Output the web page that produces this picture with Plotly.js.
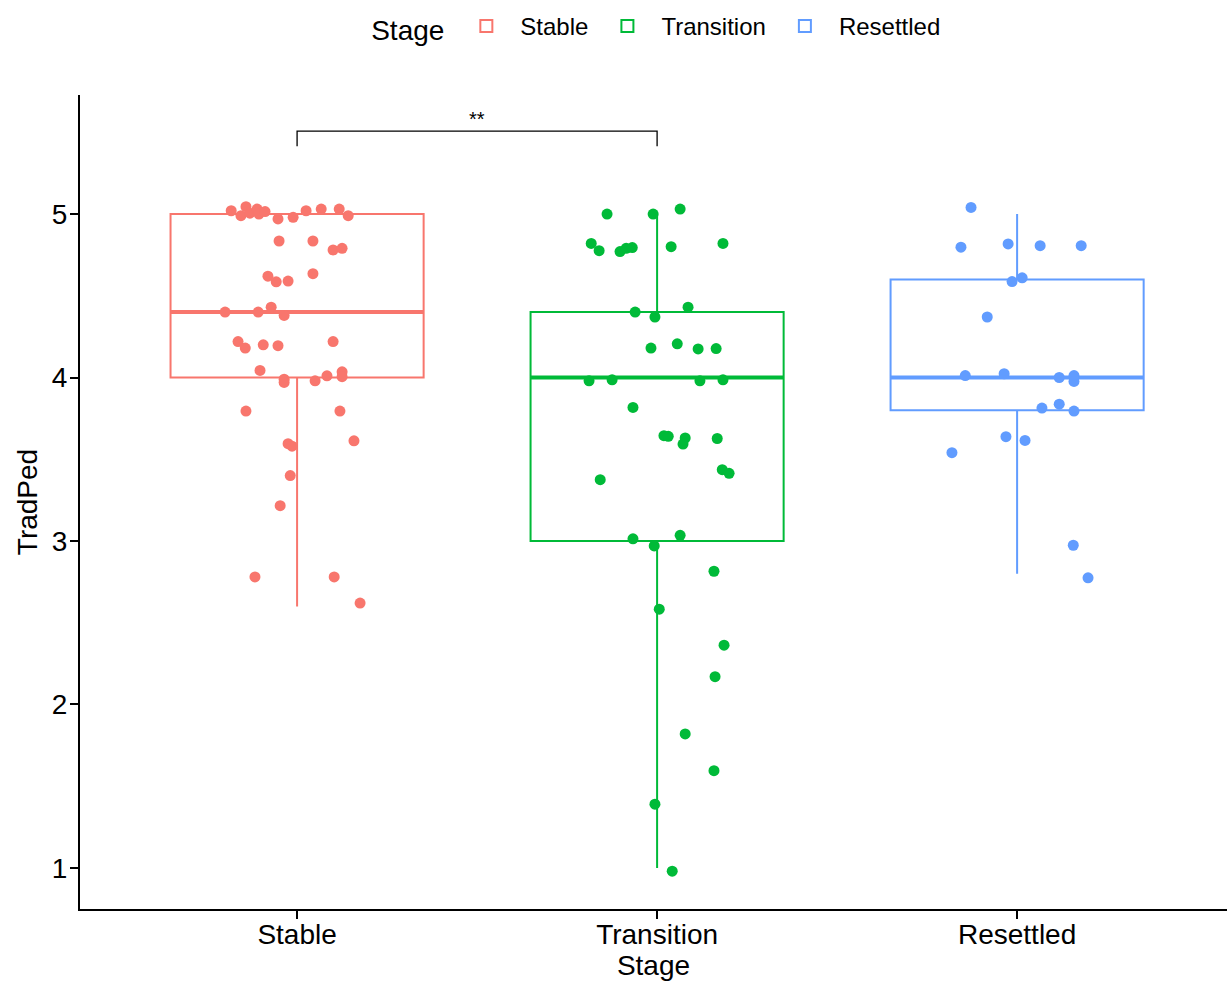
<!DOCTYPE html>
<html>
<head>
<meta charset="utf-8">
<script src="https://cdn.plot.ly/plotly-3.0.1.min.js"></script>
<style>html,body{margin:0;padding:0;background:#fff;}#chart{width:1227px;height:985px;}</style>
</head>
<body>
<div id="chart"></div>
<script>
// Categories
const stages = ['Stable', 'Transition', 'Resettled'];

// Box statistics per stage
const boxLow = [2.6, 1.0, 2.8];
const boxQ1 = [4.0, 3.0, 3.8];
const boxMedian = [4.4, 4.0, 4.0];
const boxQ3 = [5.0, 4.4, 4.6];
const boxHigh = [5.0, 5.0, 5.0];

// Jittered points: horizontal jitter offset and displayed TradPed value
const stableJitter = [-0.183,-0.156,-0.142,-0.131,-0.111,-0.106,-0.089,-0.053,-0.011,0.025,0.067,0.117,0.142,
  -0.050,0.044,0.100,0.125,-0.081,-0.058,-0.025,0.044,-0.200,-0.108,-0.072,-0.036,
  -0.164,-0.144,-0.094,-0.053,0.100,-0.103,-0.036,-0.036,0.050,0.083,0.125,0.125,
  -0.142,0.119,-0.025,-0.014,0.158,-0.019,-0.047,-0.117,0.103,0.175];
const stableValues = [5.02,4.99,5.045,5.005,5.03,5.0,5.015,4.97,4.98,5.02,5.03,5.03,4.99,
  4.835,4.835,4.78,4.79,4.62,4.585,4.59,4.635,4.40,4.40,4.43,4.38,
  4.22,4.18,4.20,4.195,4.22,4.043,3.99,3.97,3.98,4.01,4.035,4.005,
  3.795,3.795,3.595,3.58,3.613,3.40,3.216,2.78,2.78,2.62];

const transitionJitter = [-0.139,-0.011,0.064,-0.183,-0.161,-0.103,-0.086,-0.069,0.039,0.183,
  -0.061,-0.006,0.086,-0.017,0.056,0.114,0.164,-0.189,-0.125,0.119,0.183,
  -0.067,0.019,0.031,0.078,0.072,0.167,0.181,0.200,-0.158,
  -0.067,0.064,-0.008,0.158,0.006,0.186,0.161,0.078,0.158,-0.006,0.042];
const transitionValues = [5.0,5.0,5.03,4.82,4.776,4.77,4.79,4.795,4.80,4.82,
  4.40,4.37,4.43,4.18,4.206,4.175,4.177,3.98,3.986,3.98,3.986,
  3.817,3.644,3.64,3.63,3.593,3.627,3.436,3.414,3.375,
  3.013,3.035,2.97,2.815,2.583,2.363,2.17,1.82,1.595,1.39,0.98];

const resettledJitter = [-0.128,-0.156,-0.025,0.064,0.178,-0.014,0.014,-0.083,-0.144,-0.036,
  0.117,0.158,0.158,0.069,0.117,0.158,-0.031,0.022,-0.181,0.156,0.197];
const resettledValues = [5.04,4.797,4.817,4.806,4.806,4.587,4.61,4.37,4.012,4.023,
  4.0,4.012,3.976,3.813,3.837,3.795,3.638,3.615,3.54,2.974,2.775];

const yTicks = [1, 2, 3, 4, 5];

const colors = ['#F8766D', '#00BA38', '#619CFF'];
const jitters = [stableJitter, transitionJitter, resettledJitter];
const values = [stableValues, transitionValues, resettledValues];
const BOXW = 0.703;
const FONT = 'Liberation Sans, Arial, Helvetica, sans-serif';

const traces = [];
stages.forEach((s, i) => {
  traces.push({
    type: 'box', name: s, x: [i],
    q1: [boxQ1[i]], median: [boxMedian[i]], q3: [boxQ3[i]],
    lowerfence: [boxLow[i]], upperfence: [boxHigh[i]],
    width: BOXW, whiskerwidth: 0, boxpoints: false,
    line: {color: colors[i], width: 2},
    fillcolor: 'rgba(255,255,255,0)',
    legendgroup: s, showlegend: true, hoverinfo: 'skip'
  });
});
stages.forEach((s, i) => {
  traces.push({
    type: 'scatter', mode: 'lines', name: s + ' median',
    x: [i - BOXW / 2, i + BOXW / 2], y: [boxMedian[i], boxMedian[i]],
    line: {color: colors[i], width: 4},
    legendgroup: s, showlegend: false, hoverinfo: 'skip'
  });
});
stages.forEach((s, i) => {
  traces.push({
    type: 'scatter', mode: 'markers', name: s,
    x: jitters[i].map(d => i + d), y: values[i],
    marker: {color: colors[i], size: 11},
    legendgroup: s, showlegend: false
  });
});

const layout = {
  width: 1227, height: 985,
  paper_bgcolor: '#fff', plot_bgcolor: '#fff',
  margin: {l: 80, r: 0, t: 95, b: 76},
  font: {family: FONT, color: '#000', size: 28},
  showlegend: true,
  legend: {
    orientation: 'h', xref: 'container', x: 0.536, xanchor: 'center',
    yref: 'container', y: 0.996, yanchor: 'top',
    title: {text: 'Stage', font: {size: 28}, side: 'left'},
    font: {size: 24}, itemwidth: 58, traceorder: 'normal'
  },
  xaxis: {
    range: [-0.603, 2.583], tickvals: [0, 1, 2], ticktext: stages,
    showgrid: false, zeroline: false,
    showline: true, linecolor: '#000', linewidth: 2,
    ticks: 'outside', ticklen: 8, tickwidth: 2, tickcolor: '#000',
    ticklabelstandoff: -9,
    tickfont: {size: 28, color: '#000'},
    title: {text: 'Stage', font: {size: 28}, standoff: 4}
  },
  yaxis: {
    range: [0.749, 5.728], tickvals: yTicks, ticktext: yTicks.map(String),
    showgrid: false, zeroline: false,
    showline: true, linecolor: '#000', linewidth: 2,
    ticks: 'outside', ticklen: 8, tickwidth: 2, tickcolor: '#000',
    ticklabelstandoff: -3,
    tickfont: {size: 28, color: '#000'},
    title: {text: 'TradPed', font: {size: 28}, standoff: 6}
  },
  shapes: [
    {type: 'path', xref: 'x', yref: 'y', path: 'M0,5.415 L0,5.507 L1,5.507 L1,5.415',
     line: {color: '#000', width: 1.3}}
  ],
  annotations: [
    {xref: 'x', yref: 'y', x: 0.5, y: 5.507, text: '**', showarrow: false,
     yanchor: 'bottom', font: {size: 20, color: '#000'}, yshift: -1}
  ]
};

Plotly.newPlot('chart', traces, layout, {displayModeBar: false, staticPlot: true});
</script>
</body>
</html>
